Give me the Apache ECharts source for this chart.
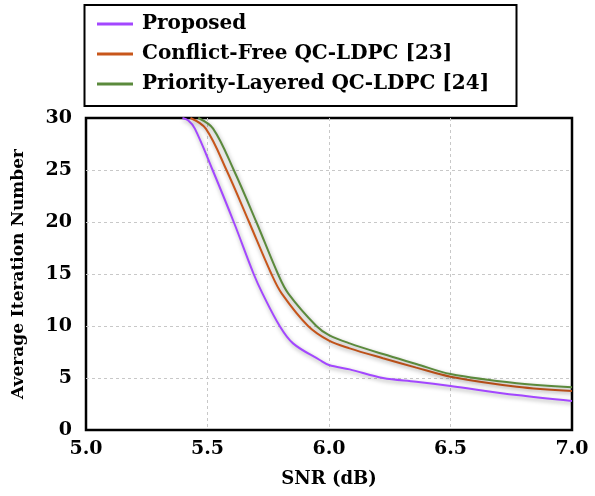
<!DOCTYPE html>
<html>
<head>
<meta charset="utf-8">
<script src="https://cdn.jsdelivr.net/npm/echarts@6/dist/echarts.min.js"></script>
<style>
html,body{margin:0;padding:0;background:#fff;}
#chart{width:595px;height:496px;}
</style>
</head>
<body>
<div id="chart"></div>
<script>
// Data
var seriesNames = ['Proposed', 'Conflict-Free QC-LDPC [23]', 'Priority-Layered QC-LDPC [24]'];
var xTicks = [5.0, 5.5, 6.0, 6.5, 7.0];
var yTicks = [0, 5, 10, 15, 20, 25, 30];

var proposedSNR = [5.397, 5.42, 5.448, 5.521, 5.608, 5.690, 5.726, 5.797, 5.852, 5.962, 6.0, 6.085, 6.222, 6.359, 6.5, 6.773, 7.0];
var proposedIter = [30, 29.78, 28.98, 25, 20, 15, 13.14, 10, 8.33, 6.73, 6.25, 5.83, 5.0, 4.65, 4.23, 3.36, 2.8];

var conflictSNR = [5.430, 5.493, 5.578, 5.671, 5.763, 5.805, 5.914, 6.0, 6.085, 6.222, 6.359, 6.5, 6.773, 7.0];
var conflictIter = [30, 28.98, 25, 20, 15, 13.14, 10, 8.59, 7.85, 6.9, 6.0, 5.13, 4.17, 3.75];

var prioritySNR = [5.462, 5.523, 5.608, 5.701, 5.79, 5.832, 5.948, 6.0, 6.085, 6.222, 6.359, 6.5, 6.773, 7.0];
var priorityIter = [30, 28.98, 25, 20, 15, 13.14, 10, 9.13, 8.33, 7.3, 6.35, 5.38, 4.49, 4.1];

var colors = ['#A347FF', '#C8561B', '#5B8A3C'];

function pairs(xs, ys) {
  var out = [];
  for (var i = 0; i < xs.length; i++) out.push([xs[i], ys[i]]);
  return out;
}

var FONT = 'DejaVu Serif';
var chart = echarts.init(document.getElementById('chart'), null, {renderer: 'canvas'});

function lineSeries(name, data, color) {
  return {
    name: name,
    type: 'line',
    data: data,
    smooth: 0.35,
    showSymbol: false,
    symbol: 'none',
    clip: true,
    z: 3,
    lineStyle: {
      width: 2,
      color: color,
      shadowColor: 'rgba(0,0,0,0.35)',
      shadowBlur: 4,
      shadowOffsetX: 1,
      shadowOffsetY: 2
    },
    itemStyle: {color: color}
  };
}

var gridLine = {show: true, showMinLine: false, showMaxLine: false, lineStyle: {color: '#c8c8c8', type: [3, 3], width: 1}};

var option = {
  backgroundColor: '#fff',
  animation: false,
  color: colors,
  grid: {
    left: 86, right: 23, top: 118, bottom: 66,
    show: true, borderColor: '#000', borderWidth: 2.5, backgroundColor: 'transparent'
  },
  graphic: [{
    type: 'rect',
    shape: {x: 84.5, y: 5, width: 432, height: 101},
    style: {fill: '#fff', stroke: '#000', lineWidth: 2},
    z: -1
  }],
  legend: {
    orient: 'vertical',
    left: 97,
    top: 14,
    padding: 0,
    itemWidth: 36,
    itemHeight: 3,
    itemGap: 10,
    icon: 'rect',
    data: seriesNames,
    textStyle: {fontFamily: FONT, fontWeight: 'bold', fontSize: 20, color: '#000', lineHeight: 20, padding: [0, 0, 0, 4]}
  },
  xAxis: {
    type: 'value',
    min: xTicks[0], max: xTicks[xTicks.length - 1], interval: 0.5,
    name: 'SNR (dB)',
    nameLocation: 'middle',
    nameGap: 40,
    nameTextStyle: {fontFamily: FONT, fontWeight: 'bold', fontSize: 18, color: '#000'},
    axisLine: {show: false},
    axisTick: {show: false},
    axisLabel: {
      margin: 10, fontFamily: FONT, fontWeight: 'bold', fontSize: 19, color: '#000',
      formatter: function (v) { return v.toFixed(1); }
    },
    splitLine: gridLine
  },
  yAxis: {
    type: 'value',
    min: yTicks[0], max: yTicks[yTicks.length - 1], interval: 5,
    name: 'Average Iteration Number',
    nameLocation: 'middle',
    nameGap: 59,
    nameTextStyle: {fontFamily: FONT, fontWeight: 'bold', fontSize: 17, color: '#000'},
    axisLine: {show: false},
    axisTick: {show: false},
    axisLabel: {margin: 14, fontFamily: FONT, fontWeight: 'bold', fontSize: 19, color: '#000'},
    splitLine: gridLine
  },
  series: [
    lineSeries(seriesNames[0], pairs(proposedSNR, proposedIter), colors[0]),
    lineSeries(seriesNames[1], pairs(conflictSNR, conflictIter), colors[1]),
    lineSeries(seriesNames[2], pairs(prioritySNR, priorityIter), colors[2])
  ]
};
chart.setOption(option);
</script>
</body>
</html>
